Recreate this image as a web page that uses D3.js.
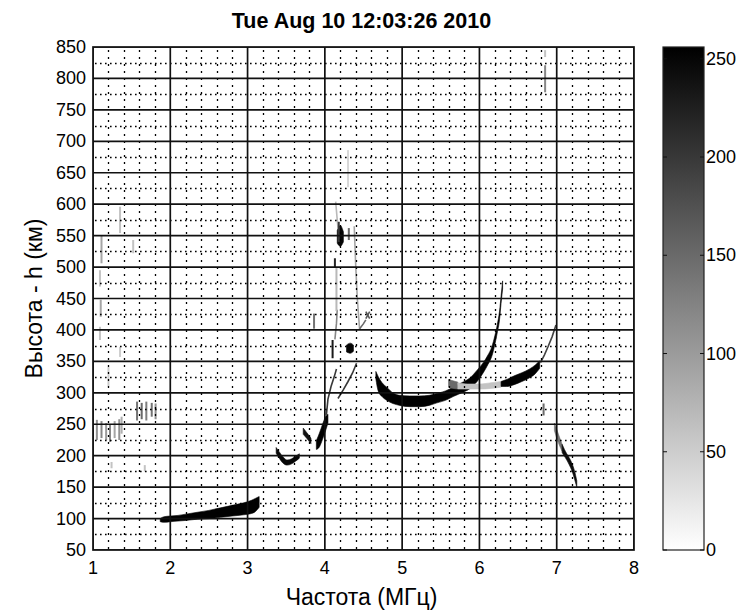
<!DOCTYPE html>
<html>
<head>
<meta charset="utf-8">
<script src="https://cdn.jsdelivr.net/npm/d3@7"></script>
<style>
  body { margin: 0; background: #fff; }
  text { font-family: "Liberation Sans", Arial, sans-serif; fill: #000; }
</style>
</head>
<body>
<div id="chart"></div>
<script>
const title = "Tue Aug 10 12:03:26 2010";
const xLabel = "Частота (МГц)";
const yLabel = "Высота - h (км)";
const xTicks = [1, 2, 3, 4, 5, 6, 7, 8];
const yTicks = [50, 100, 150, 200, 250, 300, 350, 400, 450, 500, 550, 600, 650, 700, 750, 800, 850];
const cbTicks = [0, 50, 100, 150, 200, 250];

// traces as bands: [frequency MHz, height low km, height high km]
const traceE = [[1.87, 95, 100], [1.92, 94, 103], [2.0, 95, 104], [2.1, 96, 105], [2.2, 97, 107], [2.35, 99, 110],
  [2.5, 100, 113], [2.65, 102, 117], [2.8, 104, 121], [2.95, 106, 125], [3.05, 108, 129], [3.1, 111, 132], [3.15, 118, 135]];
const traceF1hook = [[3.37, 204, 213], [3.41, 196, 206], [3.46, 188, 198], [3.51, 185, 193], [3.57, 187, 195], [3.62, 191, 199], [3.67, 196, 203]];
const traceF1mid = [[3.72, 234, 244], [3.77, 227, 236], [3.82, 219, 228]];
const traceF1blob = [[3.89, 210, 224], [3.93, 214, 236], [3.97, 226, 250], [4.01, 240, 262], [4.04, 252, 266]];
const traceBlobMid = [[4.28, 365, 376], [4.33, 363, 379], [4.37, 366, 376]];
const traceBlobTop = [[4.16, 538, 558], [4.2, 533, 566], [4.24, 540, 556]];
const traceF2o = [[4.66, 322, 334], [4.69, 303, 326], [4.74, 294, 316], [4.80, 288, 309], [4.88, 283, 300], [4.97, 280, 296],
  [5.1, 278, 295], [5.23, 278, 295], [5.35, 280, 296], [5.45, 284, 299], [5.56, 288, 303], [5.66, 294, 309], [5.77, 300, 316],
  [5.88, 307, 324], [5.97, 318, 336], [6.05, 332, 348], [6.11, 345, 360], [6.16, 358, 373], [6.20, 377, 391], [6.23, 395, 408],
  [6.26, 416, 430], [6.28, 442, 454], [6.3, 465, 478]];
const traceF2xStart = [[5.6, 309, 321], [5.66, 307, 319], [5.72, 306, 317]];
const traceF2xGray = [[5.72, 306, 316], [5.85, 306, 314], [6.0, 306, 314], [6.15, 307, 316], [6.28, 309, 318]];
const traceF2x = [[6.28, 310, 318], [6.35, 310, 321], [6.45, 313, 327], [6.55, 318, 332], [6.65, 324, 338], [6.72, 330, 344], [6.78, 339, 351]];
const traceSpreadTop = [[6.97, 240, 252], [7.0, 228, 242], [7.04, 215, 228], [7.07, 207, 218]];
const traceSpread = [[7.07, 205, 218], [7.1, 199, 210], [7.13, 193, 203], [7.16, 186, 197], [7.2, 175, 187], [7.23, 163, 176], [7.26, 150, 160]];

// thin traces: [frequency MHz, height km]
const lineF1a = [[4.02, 265], [4.04, 290], [4.08, 310], [4.12, 325], [4.15, 338]];
const lineF1b = [[4.17, 291], [4.24, 305], [4.3, 318], [4.36, 332], [4.41, 347]];
const lineHigh = [[4.38, 565], [4.4, 500], [4.42, 450], [4.45, 400]];
const lineHigher = [[4.14, 604], [4.16, 575], [4.17, 562]];
const lineLow = [[4.13, 385], [4.15, 410], [4.16, 432]];
const lineSide = [[4.45, 402], [4.5, 410], [4.53, 416]];
const lineCross1 = [[4.53, 418], [4.58, 429]];
const lineCross2 = [[4.53, 429], [4.58, 418]];
const lineF2xTop = [[6.79, 348], [6.84, 360], [6.89, 374], [6.94, 389], [6.99, 408]];

// vertical streaks: [frequency MHz, height from, height to, intensity]
const streaks = [
  [4.10, 355, 384, 230], [4.18, 540, 572, 200], [4.13, 500, 514, 220], [4.31, 543, 562, 150], [3.86, 402, 426, 140],
  [6.83, 264, 283, 150], [6.85, 778, 821, 120], [6.85, 834, 845, 60], [4.15, 430, 500, 70], [4.3, 627, 686, 40],
  [1.11, 506, 551, 90], [1.09, 469, 495, 60], [1.10, 421, 448, 90], [1.09, 384, 405, 60], [1.35, 554, 596, 60],
  [1.52, 522, 543, 60], [1.2, 310, 341, 50], [1.35, 357, 373, 50],
  [1.57, 256, 286, 140], [1.63, 258, 284, 150], [1.69, 256, 286, 130], [1.76, 262, 284, 140], [1.81, 258, 283, 110],
  [1.05, 225, 257, 110], [1.11, 228, 255, 120], [1.17, 225, 252, 100], [1.22, 222, 250, 120], [1.28, 228, 255, 90],
  [1.34, 225, 258, 110], [1.37, 235, 262, 80], [1.24, 180, 190, 60], [1.67, 175, 185, 60]
];

const bands = [
  { pts: traceE, level: 255 }, { pts: traceF1hook, level: 250 }, { pts: traceF1mid, level: 240 },
  { pts: traceF1blob, level: 255 }, { pts: traceBlobMid, level: 250 }, { pts: traceBlobTop, level: 250 },
  { pts: traceF2o, level: 255 }, { pts: traceF2xStart, level: 150 }, { pts: traceF2xGray, level: 60 },
  { pts: traceF2x, level: 255 }, { pts: traceSpreadTop, level: 140 }, { pts: traceSpread, level: 245 }
];
const lines = [
  { pts: lineF1a, level: 200 }, { pts: lineF1b, level: 200 }, { pts: lineHigh, level: 90 }, { pts: lineHigher, level: 70 },
  { pts: lineLow, level: 120 }, { pts: lineSide, level: 150 }, { pts: lineCross1, level: 170 }, { pts: lineCross2, level: 170 },
  { pts: lineF2xTop, level: 190 }
];

const width = 754, height = 611;
const plot = { left: 93, right: 634, top: 47, bottom: 550 };
const cb = { left: 663, right: 704 };

const x = d3.scaleLinear().domain([1, 8]).range([plot.left, plot.right]);
const y = d3.scaleLinear().domain([50, 850]).range([plot.bottom, plot.top]);
const cy = d3.scaleLinear().domain([0, 256]).range([plot.bottom, plot.top]);
const color = d3.scaleLinear().domain([0, 256]).range(["#ffffff", "#000000"]);

const svg = d3.select("#chart").append("svg")
  .attr("width", width)
  .attr("height", height)
  .style("background", "#fff");

svg.append("defs").append("clipPath").attr("id", "plotclip")
  .append("rect")
  .attr("x", plot.left).attr("y", plot.top)
  .attr("width", plot.right - plot.left).attr("height", plot.bottom - plot.top);

const g = svg.append("g").attr("clip-path", "url(#plotclip)");

// echo traces
const area = d3.area()
  .x(d => x(d[0]))
  .y0(d => y(d[1]))
  .y1(d => y(d[2]))
  .curve(d3.curveMonotoneX);

g.selectAll(".band")
  .data(bands)
  .join("path")
  .attr("class", "band")
  .attr("d", d => area(d.pts))
  .attr("fill", d => color(d.level))
  .attr("stroke", d => color(d.level))
  .attr("stroke-width", 0.6);

const line = d3.line().x(d => x(d[0])).y(d => y(d[1]));

g.selectAll(".thin")
  .data(lines)
  .join("path")
  .attr("class", "thin")
  .attr("d", d => line(d.pts))
  .attr("fill", "none")
  .attr("stroke", d => color(d.level))
  .attr("stroke-width", 1.6);

g.selectAll(".streak")
  .data(streaks)
  .join("rect")
  .attr("class", "streak")
  .attr("x", d => x(d[0]) - 1)
  .attr("y", d => y(d[2]))
  .attr("width", 2)
  .attr("height", d => y(d[1]) - y(d[2]))
  .attr("fill", d => color(d[3]));

// dotted minor grid: every 0.2 MHz and at the middle of each 50 km step
const minorX = d3.range(1.2, 8, 0.2).filter(v => Math.abs(v - Math.round(v)) > 0.05);
const minorY = d3.range(75, 850, 50);

g.selectAll(".minor-x")
  .data(minorX)
  .join("line")
  .attr("x1", d => Math.round(x(d)) + 0.5).attr("x2", d => Math.round(x(d)) + 0.5)
  .attr("y1", plot.top + 3).attr("y2", plot.bottom)
  .attr("stroke", "#000")
  .attr("stroke-width", 1.3)
  .attr("stroke-dasharray", "2,5");

g.selectAll(".minor-y")
  .data(minorY)
  .join("line")
  .attr("y1", d => Math.round(y(d)) + 0.5).attr("y2", d => Math.round(y(d)) + 0.5)
  .attr("x1", plot.left + 2).attr("x2", plot.right)
  .attr("stroke", "#000")
  .attr("stroke-width", 1.3)
  .attr("stroke-dasharray", "1.6,3.4");

// solid major grid
g.selectAll(".major-x")
  .data(xTicks)
  .join("line")
  .attr("x1", d => x(d)).attr("x2", d => x(d))
  .attr("y1", plot.top).attr("y2", plot.bottom)
  .attr("stroke", "#111")
  .attr("stroke-width", 1.7);

g.selectAll(".major-y")
  .data(yTicks)
  .join("line")
  .attr("y1", d => y(d)).attr("y2", d => y(d))
  .attr("x1", plot.left).attr("x2", plot.right)
  .attr("stroke", "#111")
  .attr("stroke-width", 1.7);

svg.append("rect")
  .attr("x", plot.left).attr("y", plot.top)
  .attr("width", plot.right - plot.left).attr("height", plot.bottom - plot.top)
  .attr("fill", "none")
  .attr("stroke", "#111")
  .attr("stroke-width", 1.7);

// tick labels
svg.selectAll(".ytick")
  .data(yTicks)
  .join("text")
  .attr("x", plot.left - 7)
  .attr("y", d => y(d) + 6)
  .attr("text-anchor", "end")
  .attr("font-size", "18px")
  .text(d => d);

svg.selectAll(".xtick")
  .data(xTicks)
  .join("text")
  .attr("x", d => x(d))
  .attr("y", 574)
  .attr("text-anchor", "middle")
  .attr("font-size", "18px")
  .text(d => d);

svg.append("text")
  .attr("x", (plot.left + plot.right) / 2 - 2)
  .attr("y", 28)
  .attr("text-anchor", "middle")
  .attr("font-size", "21.5px")
  .attr("font-weight", "bold")
  .text(title);

svg.append("text")
  .attr("x", (plot.left + plot.right) / 2 - 2)
  .attr("y", 605)
  .attr("text-anchor", "middle")
  .attr("font-size", "23px")
  .text(xLabel);

svg.append("text")
  .attr("transform", `translate(42,${(plot.top + plot.bottom) / 2}) rotate(-90)`)
  .attr("text-anchor", "middle")
  .attr("font-size", "23px")
  .text(yLabel);

// colorbar
const grad = svg.select("defs").append("linearGradient")
  .attr("id", "cbgrad")
  .attr("x1", 0).attr("y1", 1).attr("x2", 0).attr("y2", 0);
grad.selectAll("stop")
  .data(d3.range(0, 257, 32))
  .join("stop")
  .attr("offset", d => d / 256)
  .attr("stop-color", d => color(d));

svg.append("rect")
  .attr("x", cb.left).attr("y", cy(256))
  .attr("width", cb.right - cb.left).attr("height", cy(0) - cy(256))
  .attr("fill", "url(#cbgrad)")
  .attr("stroke", "#222")
  .attr("stroke-width", 1.2);

svg.selectAll(".cbtick-l")
  .data(cbTicks)
  .join("line")
  .attr("x1", cb.left).attr("x2", cb.left + 4)
  .attr("y1", d => cy(d)).attr("y2", d => cy(d))
  .attr("stroke", "#111");

svg.selectAll(".cbtick-r")
  .data(cbTicks)
  .join("line")
  .attr("x1", cb.right - 4).attr("x2", cb.right)
  .attr("y1", d => cy(d)).attr("y2", d => cy(d))
  .attr("stroke", "#111");

svg.selectAll(".cblabel")
  .data(cbTicks)
  .join("text")
  .attr("x", cb.right + 2)
  .attr("y", d => cy(d) + 6)
  .attr("font-size", "18px")
  .text(d => d);
</script>
</body>
</html>
